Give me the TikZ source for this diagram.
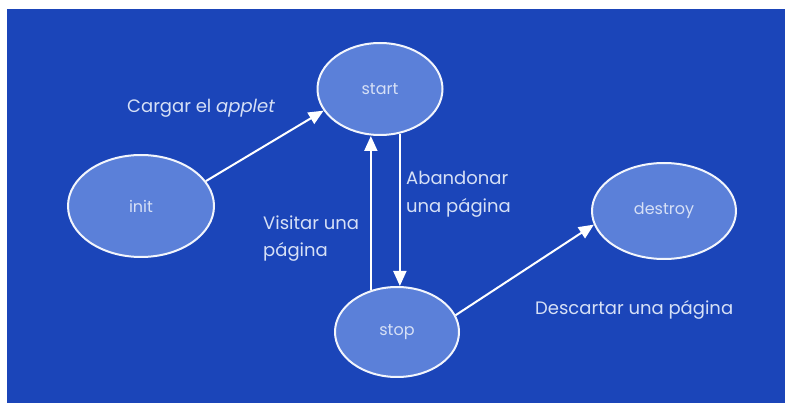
\documentclass[tikz,border=0pt]{standalone}
\usepackage{fontspec}
\setmainfont{Poppins}
\usetikzlibrary{shapes.geometric,arrows.meta}
\definecolor{bgblue}{HTML}{1B45B9}
\definecolor{nodefill}{HTML}{5B80D9}
\definecolor{txt}{HTML}{D6E0F6}
\tikzset{
  state/.style={ellipse,draw=white!92!nodefill,line width=2pt,fill=nodefill,text=txt,font=\fontsize{16}{18}\selectfont,inner sep=0pt},
  arr/.style={draw=white,line width=2pt,-{Triangle[length=15pt,width=13pt]}},
  lbl/.style={text=txt,font=\fontsize{18}{22}\selectfont,inner sep=0pt,anchor=base west}
}
\begin{document}
\begin{tikzpicture}[x=1pt,y=-1pt]
\useasboundingbox (0,0) rectangle (785,403);
\fill[white] (0,0) rectangle (785,403);
\fill[bgblue] (7,9) rectangle (785,403);
\node[state,minimum width=125pt,minimum height=92pt] (start) at (380,89) {start};
\node[state,minimum width=146pt,minimum height=102pt] (init) at (141,206) {init};
\node[state,minimum width=124pt,minimum height=90pt] (stop) at (397,332) {stop};
\node[state,minimum width=144pt,minimum height=96pt] (destroy) at (664,211) {destroy};
\draw[arr] (init.21) -- (start.201);
\draw[arr] (stop.122) -- (stop.122 |- start.south);
\draw[arr] (start.-66) -- (start.-66 |- stop.north);
\draw[arr] (stop.16) -- (destroy.191);
\node[lbl] (l1) at (127,113) {Cargar el \textit{applet}};
\node[lbl] (l2a) at (406,185) {Abandonar};
\node[lbl] (l2b) at (406,213) {una página};
\node[lbl] (l3a) at (263,230) {Visitar una};
\node[lbl] (l3b) at (263,257) {página};
\node[lbl] (l4) at (535,315) {Descartar una página};
\end{tikzpicture}
\end{document}
